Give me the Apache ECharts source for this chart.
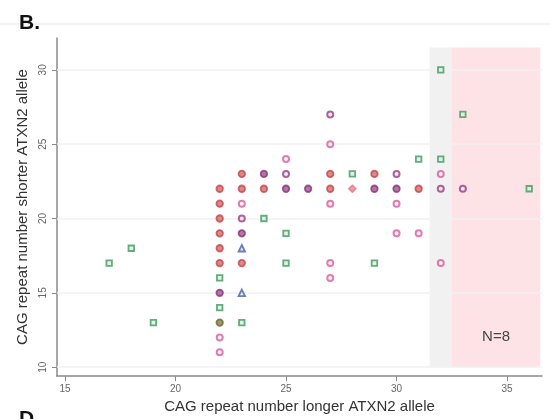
<!DOCTYPE html>
<html><head><meta charset="utf-8">
<script src="https://cdn.jsdelivr.net/npm/echarts@6/dist/echarts.min.js"></script>
<style>html,body{margin:0;padding:0;background:#fff}#c{width:550px;height:419px}</style>
</head><body><div id="c"></div>
<script>
// Data: [longer allele, shorter allele]
const redPts = [[22,22],[22,21],[22,20],[22,19],[22,18],[22,17],[23,23],[23,22],[23,17],[24,22],[27,23],[27,22],[29,23],[31,22]];
const purplePts = [[22,15],[23,19],[24,23],[25,22],[26,22],[29,22],[30,22]];
const purpleRingPts = [[23,20],[25,23],[27,27],[30,23],[32,22],[33,22]];
const pinkRingPts = [[22,12],[22,11],[23,21],[25,24],[27,25],[27,21],[27,17],[27,16],[30,21],[30,19],[31,19],[32,23],[32,17]];
const salmonPts = [[28,22]];
const greenPts = [[17,17],[18,18],[19,13],[22,16],[22,14],[23,13],[24,20],[25,19],[25,17],[28,23],[29,17],[31,24],[32,24],[32,30],[33,27],[36,22]];
const bluePts = [[23,18],[23,15]];
const olivePts = [[22,13]];
const xTicks = [15,20,25,30,35];
const yTicks = [10,15,20,25,30];
const grayBand = [31.5, 32.5];
const pinkBand = [32.5, 36.5];
const bandTop = 31.5;
const bandBottom = 10;
const bandLabel = 'N=8';

const chart = echarts.init(document.getElementById('c'));
const font = 'Liberation Sans, Arial, sans-serif';
function ser(data, color, fill, symbol, size, bw) {
  return {
    type: 'scatter', data: data, symbol: symbol || 'circle', symbolSize: size || 6,
    itemStyle: {color: fill, borderColor: color, borderWidth: bw || 2},
    z: 5, silent: true
  };
}
const series = [
  {
    type: 'scatter', data: [], silent: true,
    markArea: {
      silent: true,
      data: [
        [{xAxis: grayBand[0], yAxis: bandBottom, itemStyle: {color: '#f1f1f1'}}, {xAxis: grayBand[1], yAxis: bandTop}],
        [{xAxis: pinkBand[0], yAxis: bandBottom, itemStyle: {color: '#fde3e6'},
          label: {show: true, position: 'insideBottom', distance: 23, formatter: bandLabel, color: '#444', fontSize: 15, fontFamily: font}},
         {xAxis: pinkBand[1], yAxis: bandTop}]
      ],
      label: {show: false}
    },
    markLine: {
      silent: true, symbol: 'none', animation: false,
      lineStyle: {color: '#f0f0f0', width: 1.5, type: 'solid'},
      label: {show: false},
      data: yTicks.map(v => ({yAxis: v}))
    }
  },
  ser(greenPts, '#3e9a5e', '#dcefe2', 'rect', 5.5, 1.8),
  ser(redPts, '#c4474b', '#d56a6c', 'circle', 6.5, 1.8),
  ser(purplePts, '#8a3478', '#a05290', 'circle', 6.5, 1.8),
  ser(purpleRingPts, '#9a3f82', '#f4e6f0', 'circle', 6, 2),
  ser(pinkRingPts, '#d85e9c', '#fbeef5', 'circle', 6, 2),
  ser(salmonPts, '#df6f7c', '#e88a94', 'diamond', 7, 1.5),
  ser(bluePts, '#4a5ea6', '#e4e8f4', 'triangle', 6.5, 1.8),
  ser(olivePts, '#6e6a34', '#857f48', 'circle', 6.5, 1.8)
];
chart.setOption({
  animation: false,
  backgroundColor: '#ffffff',
  title: [
    {text: 'B.', left: 14, top: 8, textStyle: {fontSize: 21, fontWeight: 'bold', color: '#111', fontFamily: font}},
    {text: 'D.', left: 14, top: 404, textStyle: {fontSize: 21, fontWeight: 'bold', color: '#111', fontFamily: font}}
  ],
  graphic: [
    {type: 'line', shape: {x1: 0, y1: 24, x2: 550, y2: 24}, style: {stroke: '#f3f3f3', lineWidth: 2}}
  ],
  grid: {left: 57, right: 8, top: 38, bottom: 41},
  xAxis: {
    type: 'value', min: 14.64, max: 36.58,
    name: 'CAG repeat number longer ATXN2 allele', nameLocation: 'middle', nameGap: 18,
    nameTextStyle: {fontSize: 15, color: '#333', fontFamily: font},
    axisLine: {show: true, lineStyle: {color: '#8a8a8a', width: 1.5}},
    axisTick: {show: true, length: 5, customValues: xTicks, lineStyle: {color: '#8a8a8a'}},
    axisLabel: {customValues: xTicks, fontSize: 10, color: '#666', margin: 8, fontFamily: font},
    splitLine: {show: false}
  },
  yAxis: {
    type: 'value', min: 9.4, max: 32.14,
    name: 'CAG repeat number shorter ATXN2 allele', nameLocation: 'middle', nameGap: 27,
    nameTextStyle: {fontSize: 15, color: '#333', fontFamily: font},
    axisLine: {show: true, lineStyle: {color: '#8a8a8a', width: 1.5}},
    axisTick: {show: true, length: 5, customValues: yTicks, lineStyle: {color: '#8a8a8a'}},
    axisLabel: {customValues: yTicks, fontSize: 10, color: '#666', margin: 9, rotate: 90, fontFamily: font},
    splitLine: {show: false}
  },
  series: series
});
</script></body></html>
